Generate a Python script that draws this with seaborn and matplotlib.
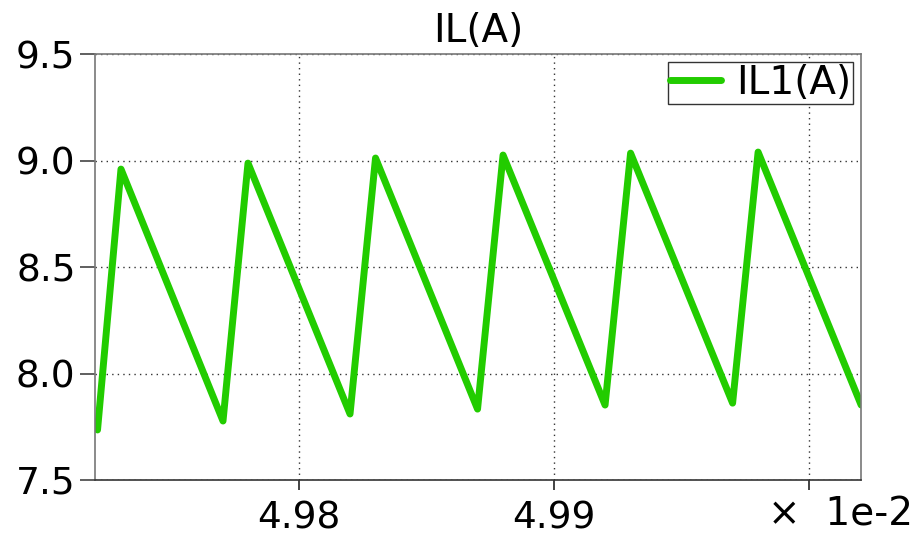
import matplotlib
matplotlib.use("Agg")
import matplotlib.pyplot as plt
import seaborn as sns
import pandas as pd

# data (time in units of 1e-2 s, current in A)
t_vals = [4.9721, 4.97302, 4.97702, 4.97800, 4.98200, 4.98300, 4.98700, 4.98800,
          4.99200, 4.99300, 4.99700, 4.99800, 5.00204]
il_vals = [7.735, 8.96, 7.777, 8.988, 7.81, 9.012, 7.833, 9.026,
           7.852, 9.035, 7.861, 9.04, 7.852]
x_ticks = [4.98, 4.99, 5.00]
x_tick_labels = ["4.98", "4.99", ""]
y_ticks = [7.5, 8.0, 8.5, 9.0, 9.5]
y_tick_labels = ["7.5", "8.0", "8.5", "9.0", "9.5"]

sns.set_theme(style="white")
plt.rcParams['font.family'] = ['DejaVu Sans']
plt.rcParams['text.color'] = 'black'

df = pd.DataFrame({"t": t_vals, "IL1(A)": il_vals})

fig = plt.figure(figsize=(9.22, 5.36), dpi=100)
ax = fig.add_axes([0.103, 0.1045, 0.831, 0.7945])
sns.lineplot(data=df, x="t", y="IL1(A)", ax=ax, color="#22cc00", linewidth=5,
             label="IL1(A)", sort=False)

ax.set_xlim(4.9720, 5.00204)
ax.set_ylim(7.5, 9.5)
ax.set_xticks(x_ticks)
ax.set_xticklabels(x_tick_labels)
ax.set_yticks(y_ticks)
ax.set_yticklabels(y_tick_labels)
ax.tick_params(axis="x", labelsize=27, labelcolor="black", color="#222222",
               direction="out", length=7, width=1.2, pad=8, bottom=True)
ax.tick_params(axis="y", labelsize=27, labelcolor="black", color="#444444",
               direction="out", length=11, width=1.2, pad=3, left=True)
ax.grid(True, linestyle=(0, (1, 3)), color="#333333", linewidth=1.0)
ax.set_xlabel("")
ax.set_ylabel("")
for s in ["left", "right", "top"]:
    ax.spines[s].set_color("#777777")
    ax.spines[s].set_linewidth(1.2)
ax.spines["bottom"].set_color("#333333")
ax.spines["bottom"].set_linewidth(1.2)

ax.set_title("IL(A)", fontsize=28, color="black", pad=9)
fig.text(0.99, 0.005, "×  1e-2", fontsize=28, ha="right", va="bottom", color="black")

leg = ax.legend(loc="upper right", fontsize=28, frameon=True, fancybox=False,
                edgecolor="#333333", handlelength=1.3, handletextpad=0.4,
                borderpad=0.05, borderaxespad=0.2, framealpha=1)
leg.get_frame().set_linewidth(1.0)
for txt in leg.get_texts():
    txt.set_color("black")

fig.savefig("out.png", dpi=100)
